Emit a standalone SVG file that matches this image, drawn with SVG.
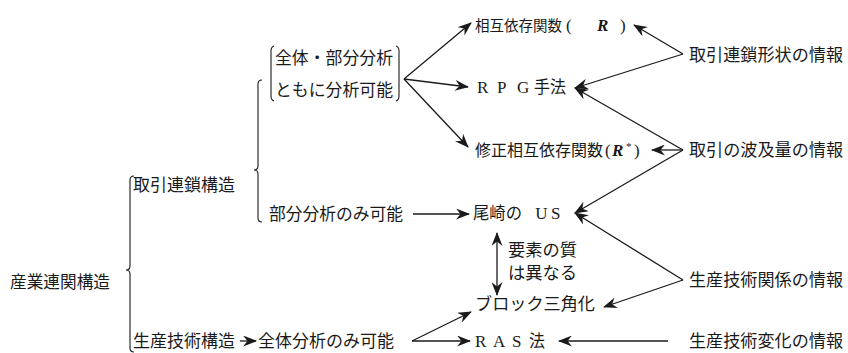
<svg xmlns="http://www.w3.org/2000/svg" width="848" height="353" viewBox="0 0 848 353">
<style>
text{font-family:"Noto Sans CJK JP","Noto Sans CJK SC",sans-serif;font-size:17px;fill:#1a1a1a}
.ri{font-family:"Liberation Serif",serif;font-style:italic;font-weight:bold}
.lat{font-family:"Liberation Serif",serif}
.s145{font-size:14.5px}
.s16{font-size:16px}
.sup{font-size:11px}
.ln{stroke:#1a1a1a;stroke-width:1.3;fill:none}
.ar{marker-end:url(#a)}
.br{stroke:#1a1a1a;stroke-width:1.1;fill:none}
</style>
<defs>
<marker id="a" viewBox="0 0 14 11" refX="13" refY="5.5" markerWidth="14" markerHeight="11" markerUnits="userSpaceOnUse" orient="auto-start-reverse">
<path d="M0,0 L14,5.5 L0,11 L4.5,5.5 Z" fill="#1a1a1a"/>
</marker>
</defs>

<g id="braces">
<path class="br" d="M134,176 Q130,176 130,180 L130,266 Q130,270 126,270 Q130,270 130,274 L130,348 Q130,352 134,352"/>
<path class="br" d="M262,80 Q258,80 258,84 L258,166 Q258,170 254,170 Q258,170 258,174 L258,218 Q258,222 262,222"/>
<path class="br" d="M274,46 Q271,47 271,51 L271,96 Q271,100 274,101"/>
<path class="br" d="M396,46 Q399,47 399,51 L399,96 Q399,100 396,101"/>
</g>

<g id="n-sangyo"><text x="10" y="288" textLength="100" lengthAdjust="spacingAndGlyphs">産業連関構造</text></g>
<g id="n-torihiki"><text x="133" y="191" textLength="102" lengthAdjust="spacingAndGlyphs">取引連鎖構造</text></g>
<g id="n-seisan"><text x="133" y="347" textLength="102" lengthAdjust="spacingAndGlyphs">生産技術構造</text></g>
<g id="n-zentaibubun">
<text x="275" y="64" textLength="118" lengthAdjust="spacingAndGlyphs">全体・部分分析</text>
<text x="275" y="96" textLength="118" lengthAdjust="spacingAndGlyphs">ともに分析可能</text>
</g>
<g id="n-bubun"><text x="269" y="220" textLength="134" lengthAdjust="spacingAndGlyphs">部分分析のみ可能</text></g>
<g id="n-zentai"><text x="258" y="347" textLength="136" lengthAdjust="spacingAndGlyphs">全体分析のみ可能</text></g>

<g id="n-R">
<text class="s145" x="475" y="31">相互依存関数</text>
<text class="lat" x="566" y="31">(</text>
<text class="ri" x="597" y="31">R</text>
<text class="lat" x="620" y="31">)</text>
</g>
<g id="n-RPG"><text x="477" y="93"><tspan class="lat" x="477">R</tspan><tspan class="lat" x="497">P</tspan><tspan class="lat" x="517">G </tspan><tspan x="534" textLength="32" lengthAdjust="spacingAndGlyphs">手法</tspan></text></g>
<g id="n-Rstar">
<text class="s16" x="475" y="156">修正相互依存関数</text>
<text class="lat" x="605" y="156">(</text>
<text class="ri" x="612" y="156">R</text>
<text class="lat sup" x="626" y="150">*</text>
<text class="lat" x="634" y="156">)</text>
</g>
<g id="n-US"><text x="473" y="219"><tspan textLength="49" lengthAdjust="spacingAndGlyphs">尾崎の</tspan><tspan class="lat" x="531"> U</tspan><tspan class="lat" x="551">S</tspan></text></g>
<g id="n-youso">
<text x="508" y="256" textLength="69" lengthAdjust="spacingAndGlyphs">要素の質</text>
<text x="508" y="279" textLength="69" lengthAdjust="spacingAndGlyphs">は異なる</text>
</g>
<g id="n-block"><text x="475" y="310" textLength="120" lengthAdjust="spacingAndGlyphs">ブロック三角化</text></g>
<g id="n-RAS"><text x="475" y="347"><tspan class="lat" x="475">R</tspan><tspan class="lat" x="493">A</tspan><tspan class="lat" x="512">S </tspan><tspan x="529" textLength="16" lengthAdjust="spacingAndGlyphs">法</tspan></text></g>

<g id="n-info1"><text x="689" y="61" textLength="154" lengthAdjust="spacingAndGlyphs">取引連鎖形状の情報</text></g>
<g id="n-info2"><text x="689" y="156" textLength="154" lengthAdjust="spacingAndGlyphs">取引の波及量の情報</text></g>
<g id="n-info3"><text x="689" y="286" textLength="154" lengthAdjust="spacingAndGlyphs">生産技術関係の情報</text></g>
<g id="n-info4"><text x="689" y="347" textLength="154" lengthAdjust="spacingAndGlyphs">生産技術変化の情報</text></g>

<g id="connectors">
<line class="ln ar" x1="404" y1="79" x2="471" y2="23"/>
<line class="ln ar" x1="404" y1="79" x2="468" y2="87"/>
<line class="ln ar" x1="404" y1="79" x2="468" y2="147"/>
<line class="ln ar" x1="413" y1="214" x2="469" y2="214"/>
<line class="ln ar" x1="240" y1="341" x2="256" y2="341"/>
<line class="ln ar" x1="412" y1="341" x2="471" y2="312"/>
<line class="ln ar" x1="412" y1="341" x2="470" y2="341"/>
<line class="ln ar" x1="497" y1="233" x2="497" y2="295" marker-start="url(#a)"/>
<line class="ln ar" x1="683" y1="54" x2="634" y2="25"/>
<line class="ln ar" x1="683" y1="54" x2="575" y2="88"/>
<line class="ln ar" x1="683" y1="150" x2="575" y2="88"/>
<line class="ln ar" x1="683" y1="150" x2="652" y2="150"/>
<line class="ln ar" x1="683" y1="150" x2="575" y2="213"/>
<line class="ln ar" x1="683" y1="280" x2="575" y2="213"/>
<line class="ln ar" x1="683" y1="280" x2="604" y2="307"/>
<line class="ln ar" x1="668" y1="341" x2="559" y2="341"/>
</g>
</svg>
